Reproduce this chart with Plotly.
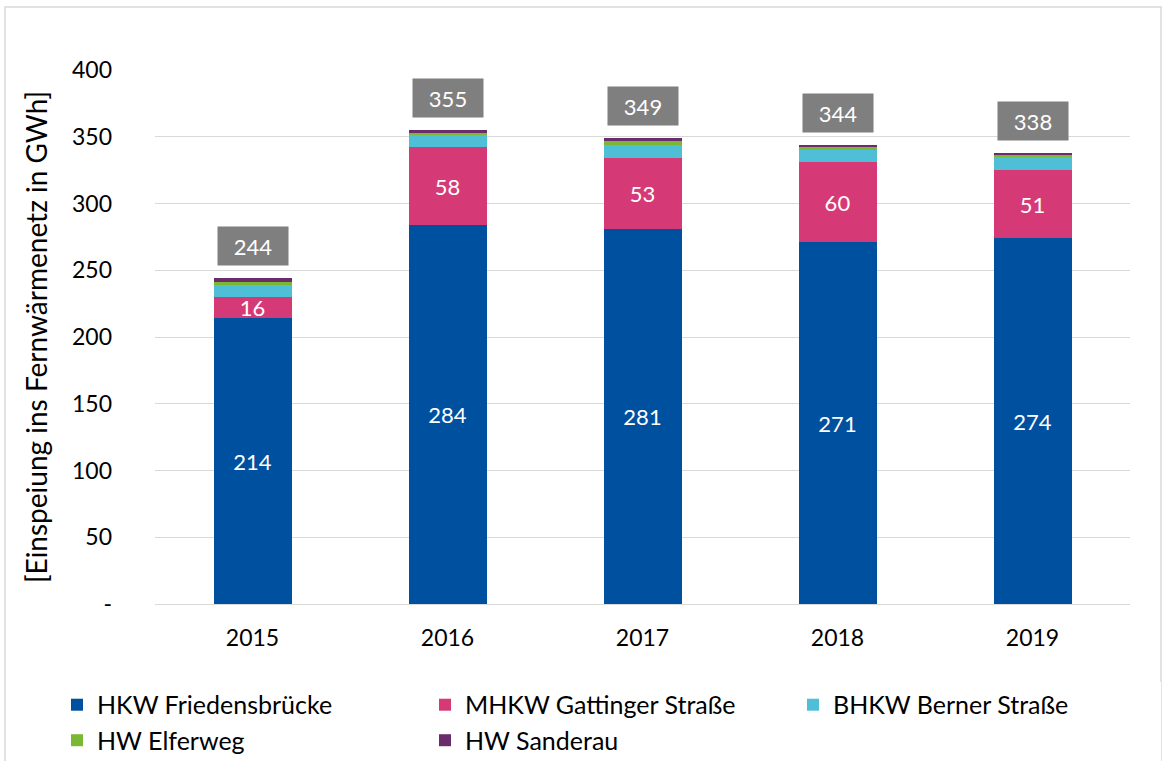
import plotly.graph_objects as go

years = ["2015", "2016", "2017", "2018", "2019"]
hkw = [214, 284, 281, 271, 274]
mhkw = [16, 58, 53, 60, 51]
bhkw = [9, 9, 10, 9, 10]
elfer = [2, 2, 3, 2, 2]
sanderau = [3, 2, 2, 2, 1]
totals = [244, 355, 349, 344, 338]

names = ["HKW Friedensbrücke", "MHKW Gattinger Straße", "BHKW Berner Straße",
         "HW Elferweg", "HW Sanderau"]
colors = ["#0050A0", "#D63A76", "#4FBFD7", "#7AB833", "#6B2C6B"]
series = [hkw, mhkw, bhkw, elfer, sanderau]

xpos = list(range(len(years)))

FONT = "Lato"
fig = go.Figure()
for i, (nm, col, vals) in enumerate(zip(names, colors, series)):
    kw = {}
    if i < 2:
        kw = dict(text=[str(v) for v in vals], textposition="inside",
                  insidetextanchor="middle", textangle=0,
                  textfont=dict(color="white", size=22, family=FONT))
    fig.add_trace(go.Bar(x=xpos, y=vals, name=nm, marker_color=col,
                         marker_line_width=0, width=0.4, **kw))

for xp, t in zip(xpos, totals):
    fig.add_annotation(x=xp, y=t, text=str(t), showarrow=False, yanchor="bottom",
                       yshift=12, bgcolor="#7F7F7F", width=56, height=24, borderpad=7,
                       font=dict(color="white", size=22, family=FONT))

fig.add_shape(type="rect", xref="paper", yref="paper", x0=-0.1538, x1=1.0318,
              y0=-0.32, y1=1.118, line=dict(color="#D9D9D9", width=1.5))

fig.update_layout(
    width=1168, height=761, barmode="stack",
    paper_bgcolor="white", plot_bgcolor="white",
    margin=dict(l=155, r=38, t=70, b=157, autoexpand=False),
    font=dict(family=FONT, size=23, color="#000000"),
    uniformtext=dict(mode="show", minsize=21),
    legend=dict(orientation="h", x=-0.1005, xanchor="left", y=-0.146, yanchor="top",
                entrywidth=323, entrywidthmode="pixels", traceorder="normal",
                font=dict(size=25, family=FONT), itemwidth=30),
    showlegend=True,
)
fig.update_yaxes(range=[0, 400], tickvals=[0, 50, 100, 150, 200, 250, 300, 350, 400],
                 ticktext=["-", "50", "100", "150", "200", "250", "300", "350", "400"],
                 showgrid=True, gridcolor="#D9D9D9", gridwidth=1.3, zeroline=False,
                 ticklabelstandoff=42, automargin=False,
                 title=dict(text="[Einspeiung ins Fernwärmenetz in GWh]", standoff=16,
                            font=dict(size=28, family=FONT)))
fig.update_xaxes(range=[-0.5, len(years) - 0.5], tickvals=xpos, ticktext=years,
                 showgrid=False, zeroline=False,
                 showline=True, linecolor="#D9D9D9", linewidth=1.3,
                 ticklabelstandoff=13, automargin=False)

fig.write_html("out.html", config={"displayModeBar": False},
               post_script="document.body.style.margin='0';")
